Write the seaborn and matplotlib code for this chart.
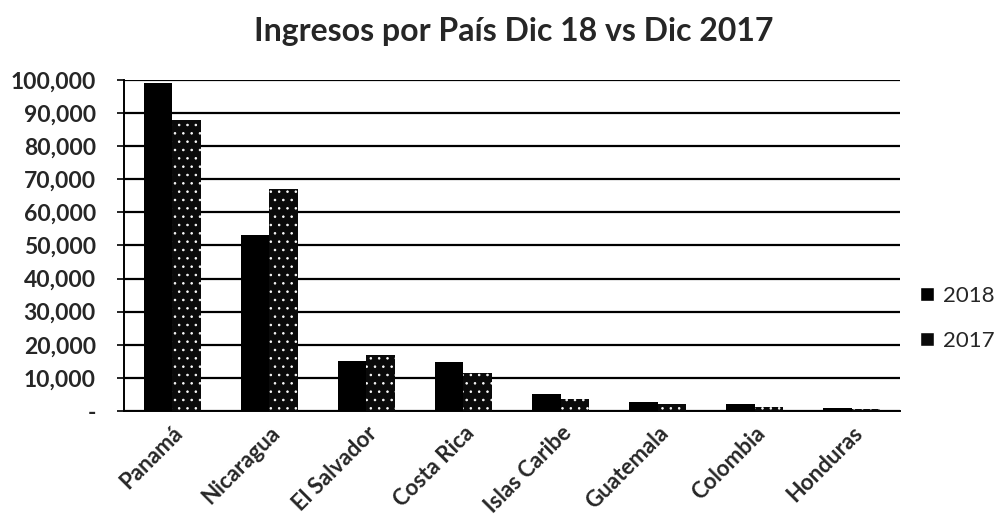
import matplotlib
matplotlib.use("Agg")
import matplotlib.pyplot as plt
import seaborn as sns
import pandas as pd
from matplotlib.ticker import FuncFormatter

paises = ["Panamá", "Nicaragua", "El Salvador", "Costa Rica", "Islas Caribe",
          "Guatemala", "Colombia", "Honduras"]
ingresos_2018 = [99000, 53000, 15100, 14900, 5100, 2800, 2000, 900]
ingresos_2017 = [88000, 67000, 16800, 11500, 3500, 2100, 1200, 500]
anios = ["2018", "2017"]
titulo = "Ingresos por País Dic 18 vs Dic 2017"

df = pd.DataFrame({
    "País": paises * 2,
    "Año": [anios[0]] * len(paises) + [anios[1]] * len(paises),
    "Ingresos": ingresos_2018 + ingresos_2017,
})

sns.set_theme(style="white")
plt.rcParams["font.family"] = ["Lato", "DejaVu Sans"]
plt.rcParams["hatch.linewidth"] = 0.6

fig = plt.figure(figsize=(9.97, 5.25), dpi=100)
ax = fig.add_axes([0.124, 0.217, 0.779, 0.631])

sns.barplot(data=df, x="País", y="Ingresos", hue="Año", hue_order=anios,
            palette=["#000000", "#0a0a0a"], width=0.59, gap=0, ax=ax,
            saturation=1, errorbar=None, zorder=3)

n = len(paises)
for i, p in enumerate(ax.patches[:2 * n]):
    p.set_linewidth(0)
    if i >= n:
        p.set_edgecolor("white")
        p.set_hatch("..")

ax.set_ylim(0, 100000)
ax.set_yticks(range(0, 100001, 10000))
ax.yaxis.set_major_formatter(FuncFormatter(lambda v, _: "-" if v == 0 else f"{int(v):,}"))
ax.grid(axis="y", color="black", linewidth=1.6, zorder=0)
ax.grid(axis="x", visible=False)
for s in ["top", "right"]:
    ax.spines[s].set_visible(False)
ax.spines["left"].set_color("black")
ax.spines["left"].set_linewidth(1.4)
ax.spines["bottom"].set_color("black")
ax.spines["bottom"].set_linewidth(1.4)
ax.tick_params(axis="y", left=True, length=5, width=1.2, color="black", labelsize=16.5, pad=15)
ax.tick_params(axis="x", bottom=False, labelsize=16, pad=2)
for lab in ax.get_yticklabels():
    lab.set_fontweight("bold")
for lab in ax.get_xticklabels():
    lab.set_fontweight("bold")
    lab.set_rotation(45)
    lab.set_ha("right")
    lab.set_rotation_mode("anchor")
ax.set_xlabel("")
ax.set_ylabel("")
ax.set_xlim(-0.5, n - 0.5)

fig.suptitle(titulo, x=0.515, y=0.968, fontsize=23, fontweight="bold")

leg = ax.legend(loc="center left", bbox_to_anchor=(1.0, 0.28), frameon=False,
                fontsize=16, handlelength=0.6, handleheight=0.6,
                handletextpad=0.4, labelspacing=1.1)

fig.savefig("out.png", dpi=100)
